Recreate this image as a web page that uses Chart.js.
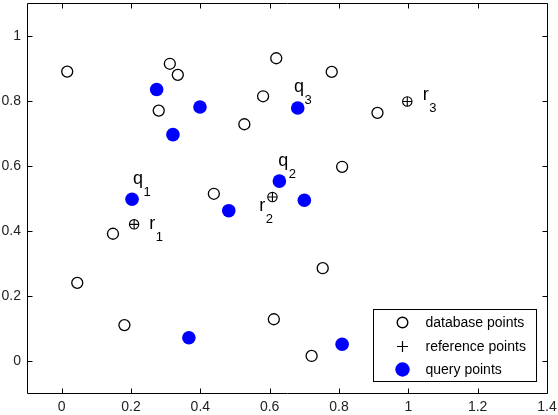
<!DOCTYPE html>
<html>
<head>
<meta charset="utf-8">
<script src="https://cdn.jsdelivr.net/npm/chart.js@4/dist/chart.umd.min.js"></script>
<style>
  html, body { margin: 0; padding: 0; background: #fff; }
  #wrap { width: 558px; height: 415px; }
</style>
</head>
<body>
<div id="wrap"><canvas id="knnChart" width="558" height="415"></canvas></div>
<script>
// data
const dbX = [0.016, 0.312, 0.335, 0.280, 0.619, 0.581, 0.527, 0.439, 0.779, 0.911, 0.809, 0.148, 0.045, 0.181, 0.612, 0.753, 0.721];
const dbY = [0.889, 0.913, 0.879, 0.769, 0.930, 0.813, 0.727, 0.513, 0.888, 0.762, 0.596, 0.390, 0.239, 0.109, 0.127, 0.284, 0.014];

const refX = [0.209, 0.608, 0.997];
const refY = [0.419, 0.503, 0.797];

const queryX = [0.274, 0.399, 0.321, 0.203, 0.681, 0.628, 0.700, 0.482, 0.367, 0.809];
const queryY = [0.834, 0.780, 0.695, 0.496, 0.777, 0.552, 0.493, 0.461, 0.070, 0.050];

// point labels (letter + subscript), anchored at left/baseline in data units
const labelMain = ['q', 'q', 'q', 'r', 'r', 'r'];
const labelSub = ['1', '2', '3', '1', '2', '3'];
const labelX = [0.2055, 0.6245, 0.6705, 0.2524, 0.5698, 1.0417];
const labelY = [0.542, 0.600, 0.826, 0.406, 0.459, 0.802];

const xTicks = [0, 0.2, 0.4, 0.6, 0.8, 1, 1.2, 1.4];
const yTicks = [0, 0.2, 0.4, 0.6, 0.8, 1];

const legendNames = ['database points', 'reference points', 'query points'];

const FONT = '"Liberation Sans", Arial, Helvetica, sans-serif';

function toPoints(xs, ys) {
  return xs.map((x, i) => ({ x: x, y: ys[i] }));
}

// box, inward tick marks and tick labels, MATLAB style
const axesBox = {
  id: 'axesBox',
  afterDraw(chart) {
    const { ctx, chartArea: a, scales } = chart;
    const L = Math.round(a.left) + 0.5, R = Math.round(a.right) + 0.5;
    const T = Math.round(a.top) + 0.5, B = Math.round(a.bottom) + 0.5;
    ctx.save();
    ctx.strokeStyle = '#000';
    ctx.lineWidth = 1;
    ctx.beginPath();
    ctx.rect(L, T, R - L, B - T);
    xTicks.forEach(v => {
      const px = Math.round(scales.x.getPixelForValue(v)) + 0.5;
      ctx.moveTo(px, B); ctx.lineTo(px, B - 5);
      ctx.moveTo(px, T); ctx.lineTo(px, T + 5);
    });
    yTicks.forEach(v => {
      const py = Math.round(scales.y.getPixelForValue(v)) + 0.5;
      ctx.moveTo(L, py); ctx.lineTo(L + 5, py);
      ctx.moveTo(R, py); ctx.lineTo(R - 5, py);
    });
    ctx.stroke();

    ctx.fillStyle = '#222';
    ctx.font = '14px ' + FONT;
    ctx.textBaseline = 'middle';
    ctx.textAlign = 'center';
    xTicks.forEach(v => {
      ctx.fillText(String(v), scales.x.getPixelForValue(v), a.bottom + 14.5);
    });
    ctx.textAlign = 'right';
    yTicks.forEach(v => {
      ctx.fillText(String(v), a.left - 6, scales.y.getPixelForValue(v) + 0.5);
    });
    ctx.restore();
  }
};

// q1, r1 ... labels next to the points
const pointLabels = {
  id: 'pointLabels',
  afterDatasetsDraw(chart) {
    const { ctx, scales } = chart;
    ctx.save();
    ctx.fillStyle = '#000';
    ctx.textBaseline = 'alphabetic';
    ctx.textAlign = 'left';
    labelMain.forEach((m, i) => {
      const px = scales.x.getPixelForValue(labelX[i]);
      const py = scales.y.getPixelForValue(labelY[i]);
      ctx.font = '18px ' + FONT;
      ctx.fillText(m, px, py);
      const w = ctx.measureText(m).width;
      ctx.font = '13px ' + FONT;
      ctx.fillText(labelSub[i], px + w + 0.5, py + 12);
    });
    ctx.restore();
  }
};

// legend box in the lower right corner
const cornerLegend = {
  id: 'cornerLegend',
  afterDraw(chart) {
    const { ctx, chartArea: a } = chart;
    const boxW = 163, boxH = 72;
    const bx = Math.round(a.right - 11 - boxW) + 0.5;
    const by = Math.round(a.bottom - 12 - boxH) + 0.5;
    ctx.save();
    ctx.fillStyle = '#fff';
    ctx.fillRect(bx, by, boxW, boxH);
    ctx.strokeStyle = '#000';
    ctx.lineWidth = 1;
    ctx.strokeRect(bx, by, boxW, boxH);

    const mx = bx + 29;
    const rowY = [by + 13, by + 37, by + 60];

    ctx.lineWidth = 1.4;
    ctx.beginPath();
    ctx.arc(mx, rowY[0], 5.3, 0, Math.PI * 2);
    ctx.stroke();

    ctx.lineWidth = 1.2;
    ctx.beginPath();
    ctx.moveTo(mx - 5.5, rowY[1]); ctx.lineTo(mx + 5.5, rowY[1]);
    ctx.moveTo(mx, rowY[1] - 5.5); ctx.lineTo(mx, rowY[1] + 5.5);
    ctx.stroke();

    ctx.fillStyle = '#0000ff';
    ctx.beginPath();
    ctx.arc(mx, rowY[2], 7.2, 0, Math.PI * 2);
    ctx.fill();

    ctx.fillStyle = '#000';
    ctx.font = '14px ' + FONT;
    ctx.textBaseline = 'middle';
    legendNames.forEach((t, i) => ctx.fillText(t, bx + 52, rowY[i] + 1));
    ctx.restore();
  }
};

const ctx = document.getElementById('knnChart').getContext('2d');

new Chart(ctx, {
  type: 'scatter',
  data: {
    datasets: [
      {
        label: 'database points',
        data: toPoints(dbX, dbY),
        pointStyle: 'circle',
        pointRadius: 5.5,
        pointBorderWidth: 1.3,
        pointBorderColor: '#000',
        pointBackgroundColor: 'rgba(0,0,0,0)'
      },
      {
        label: 'reference points',
        data: toPoints(refX, refY),
        pointStyle: 'cross',
        pointRadius: 4.7,
        pointBorderWidth: 1.1,
        pointBorderColor: '#000'
      },
      {
        label: 'reference circles',
        data: toPoints(refX, refY),
        pointStyle: 'circle',
        pointRadius: 4.7,
        pointBorderWidth: 1.1,
        pointBorderColor: '#000',
        pointBackgroundColor: 'rgba(0,0,0,0)'
      },
      {
        label: 'query points',
        data: toPoints(queryX, queryY),
        pointStyle: 'circle',
        pointRadius: 6.8,
        pointBorderWidth: 0,
        pointBackgroundColor: '#0000ff'
      }
    ]
  },
  options: {
    responsive: false,
    animation: false,
    events: [],
    layout: { autoPadding: false, padding: { top: 3, right: 11, left: 27, bottom: 22 } },
    plugins: {
      legend: { display: false },
      tooltip: { enabled: false }
    },
    scales: {
      x: {
        type: 'linear',
        min: -0.1,
        max: 1.4,
        ticks: { display: false },
        grid: { display: false, drawTicks: false },
        border: { display: false }
      },
      y: {
        type: 'linear',
        min: -0.1,
        max: 1.1,
        ticks: { display: false },
        grid: { display: false, drawTicks: false },
        border: { display: false }
      }
    }
  },
  plugins: [axesBox, pointLabels, cornerLegend]
});
</script>
</body>
</html>
